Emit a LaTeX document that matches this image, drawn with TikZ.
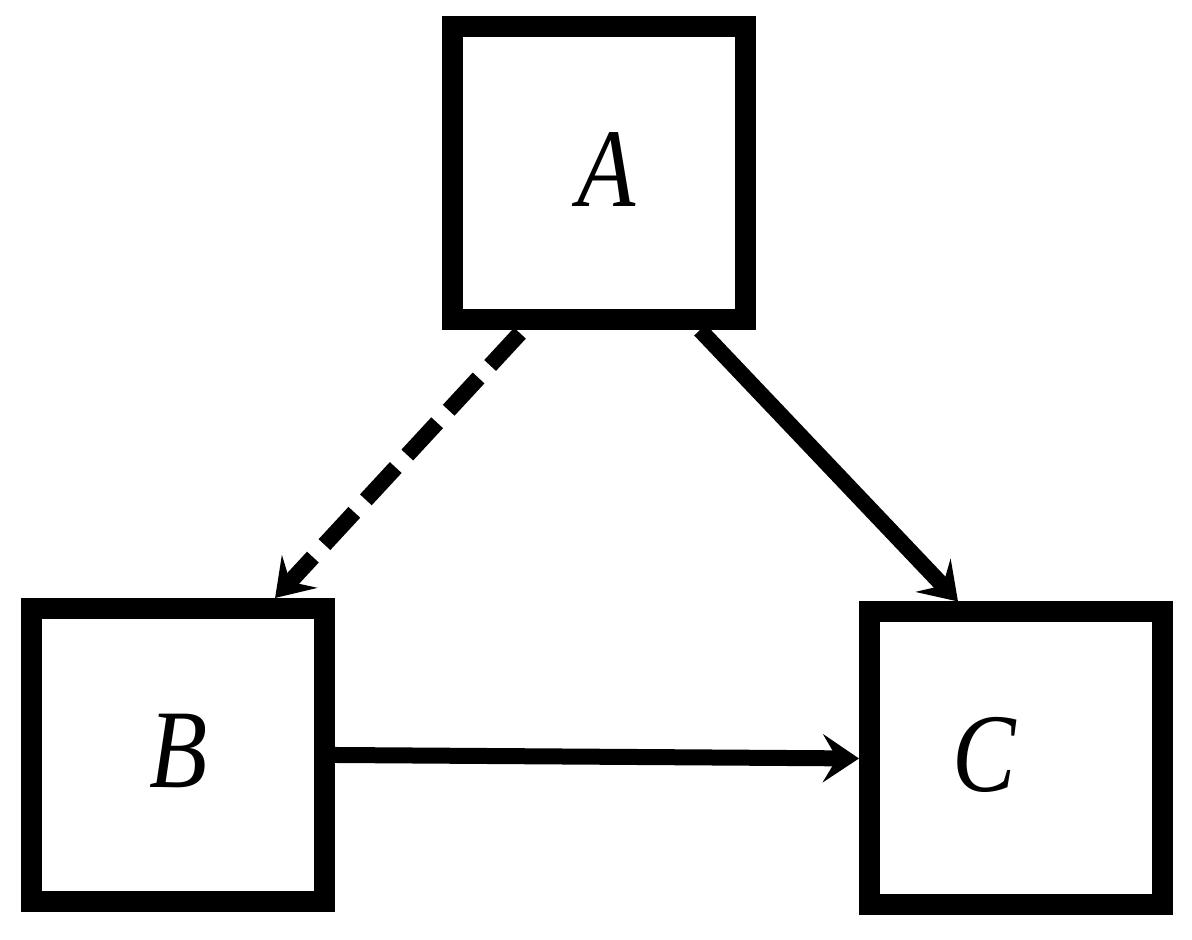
\documentclass[tikz,border=0pt]{standalone}
\usepackage{fontspec}
\setmainfont{Liberation Serif}
\newfontfamily\tagfont[FakeStretch=0.85]{Liberation Serif}
\usetikzlibrary{arrows.meta,calc}

\begin{document}
\begin{tikzpicture}[x=0.25pt,y=0.25pt,
    box/.style={draw,line width=5.25pt,minimum size=73.25pt,inner sep=0pt},
    link/.style={line width=4pt,-{Stealth[length=9pt,width=12pt,inset=3.5pt]}},
    tag/.style={font=\tagfont\fontsize{28}{30}\selectfont\itshape,inner sep=0pt}]
    \useasboundingbox (0,0) rectangle (1192,940);

    \foreach \n/\x/\y/\dx in {A/599/767/8,B/177.5/185/1.5,C/1016/181.5/-31.5}{% one box per variable
        \node[box,label={[tag,xshift=\dx*0.25pt,yshift=0.9pt]center:\n}] (\n) at (\x,\y) {};
    }
    \draw [link,dash pattern=on 11pt off 4.25pt] ([xshift=-19.75pt,yshift=-0.8pt]A.south) -- ([xshift=24.4pt]B.north);% dashed edge
    \draw [link] ([xshift=25.25pt]A.south) -- ([xshift=-14.5pt]C.north);
    \draw [link] (B.east) -- (C.west);

\end{tikzpicture}
\end{document}
